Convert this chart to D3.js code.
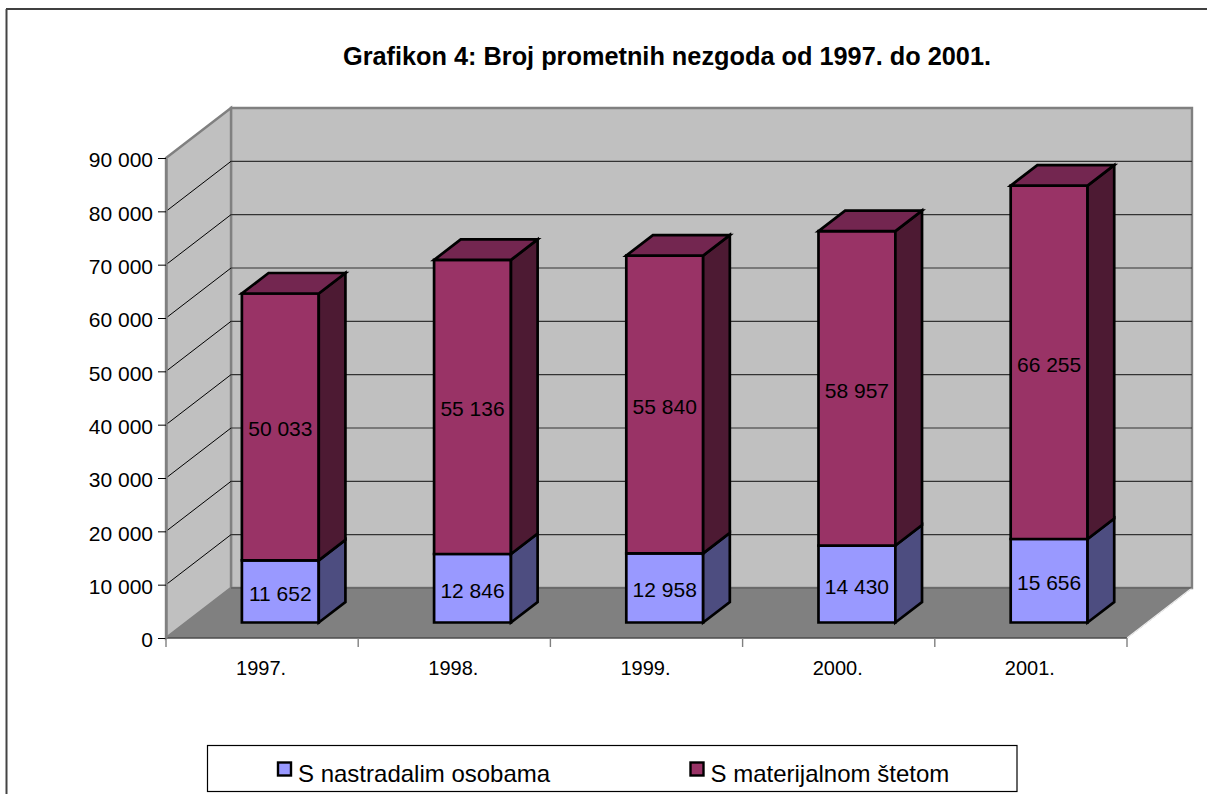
<!DOCTYPE html>
<html><head><meta charset="utf-8">
<script src="https://cdn.jsdelivr.net/npm/d3@7/dist/d3.min.js"></script>
<style>html,body{margin:0;padding:0;background:#fff;overflow:hidden}svg{display:block}text{font-family:"Liberation Sans",Arial,sans-serif;fill:#000}</style>
</head><body><script>
const categories = ["1997.","1998.","1999.","2000.","2001."];
const injured = [11652,12846,12958,14430,15656];
const damage = [50033,55136,55840,58957,66255];
const valueTicks = [0,10000,20000,30000,40000,50000,60000,70000,80000,90000];
const seriesNames = ["S nastradalim osobama","S materijalnom štetom"];
const titleText = "Grafikon 4: Broj prometnih nezgoda od 1997. do 2001.";

const W=1207,H=794;
const svg=d3.select("body").append("svg").attr("width",W).attr("height",H);
const x=d3.scaleBand().domain(categories).range([166,1127]);
const y=d3.scaleLinear().domain([0,90000]).range([638,158]);
const depthX=d3.scaleLinear().domain([0,1]).range([0,65]);
const depthY=d3.scaleLinear().domain([0,1]).range([0,-50]);
const fmt=v=>d3.format(",")(v).replace(/,/g," ");
const P=(px,py,d=0)=>[px+depthX(d),py+depthY(d)];
const poly=(pts,fill,stroke,sw)=>svg.append("polygon").attr("points",pts.map(p=>p.join(",")).join(" ")).attr("fill",fill).attr("stroke",stroke).attr("stroke-width",sw).attr("stroke-linejoin","miter");
const line=(a,b,stroke,sw)=>svg.append("line").attr("x1",a[0]).attr("y1",a[1]).attr("x2",b[0]).attr("y2",b[1]).attr("stroke",stroke).attr("stroke-width",sw);

// chart frame: only top and left edges fall inside the picture
line([6,9],[W,9],"#000",1.5);
line([6.5,9],[6.5,H],"#444",2);

const xL=166,xR=1127,y0=y(0),yT=y(90000);
// walls and floor
poly([P(xL,yT,1),P(xR,yT,1),P(xR,y0,1),P(xL,y0,1)],"#c0c0c0","#808080",2.4);
poly([P(xL,yT,0),P(xL,yT,1),P(xL,y0,1),P(xL,y0,0)],"#c0c0c0","#808080",2.4);
poly([P(xL,y0,0),P(xL,y0,1),P(xR,y0,1),P(xR,y0,0)],"#808080","#808080",1);
line(P(xR,y0,0),P(xR,y0,1),"#eee",1.2);
line(P(xL,y0,1),P(xR,y0,1),"#555",1.2);
line(P(xL,y0,0),P(xR,y0,0),"#333",1.2);

// gridlines
valueTicks.slice(1,-1).forEach(v=>{
  line(P(xL,y(v),0),P(xL,y(v),1),"#000",1);
  line(P(xL,y(v),1),P(xR,y(v),1),"#333",1.2);
});

// axes
const axisY=d3.axisLeft(y).tickValues(valueTicks).tickFormat(fmt).tickSizeInner(8).tickSizeOuter(0).tickPadding(5);
const gy=svg.append("g").attr("transform",`translate(${xL},0)`).call(axisY);
gy.select(".domain").attr("stroke","#808080").attr("stroke-width",2.4);
gy.selectAll(".tick line").attr("stroke","#000");
gy.selectAll("text").attr("dy","0.42em").style("font-size","21px").style("font-family",'"Liberation Sans",Arial,sans-serif').attr("fill","#000");

const ticksX=d3.range(categories.length+1).map(i=>xL+i*x.bandwidth());
ticksX.forEach(t=>line([t,y0],[t,y0+9],"#808080",1.4));
svg.append("g").selectAll("text").data(categories).join("text")
  .attr("x",d=>x(d)+x.bandwidth()/2-1).attr("y",674.5)
  .attr("text-anchor","middle").style("font-size","20px").text(d=>d);

// bars
const barW=x.bandwidth()*0.4, dNear=0.31, dFar=0.72;
const colors=[{front:"#9999ff",side:"#4d4d80",top:"#7373bf"},{front:"#993366",side:"#4d1a33",top:"#732650"}];
categories.forEach((c,i)=>{
  const bx=x(c)+x.bandwidth()*0.29;
  const stack=[[0,injured[i]],[injured[i],injured[i]+damage[i]]];
  stack.forEach(([a,b],k)=>{
    const col=colors[k];
    const x0=bx,x1=bx+barW,ya=y(a),yb=y(b);
    poly([P(x0,ya,dNear),P(x1,ya,dNear),P(x1,yb,dNear),P(x0,yb,dNear)],col.front,"#000",2.7);
    poly([P(x1,ya,dNear),P(x1,ya,dFar),P(x1,yb,dFar),P(x1,yb,dNear)],col.side,"#000",2.7);
    if(k===1) poly([P(x0,yb,dNear),P(x1,yb,dNear),P(x1,yb,dFar),P(x0,yb,dFar)],col.top,"#000",2.7);
  });
  stack.forEach(([a,b],k)=>{
    const c0=P(bx+barW/2,y((a+b)/2),dNear);
    svg.append("text").attr("x",c0[0]).attr("y",c0[1]+9.5).attr("text-anchor","middle")
      .style("font-size","21px").text(fmt(b-a));
  });
});

// title
svg.append("text").attr("x",667).attr("y",64.5).attr("text-anchor","middle").style("font-size","25.3px").style("font-weight","bold").text(titleText);

// legend
svg.append("rect").attr("x",207.5).attr("y",745.5).attr("width",809.5).attr("height",46).attr("fill","#fff").attr("stroke","#000").attr("stroke-width",1.2);
const legX=[278,690.5];
seriesNames.forEach((n,i)=>{
  svg.append("rect").attr("x",legX[i]).attr("y",762.5).attr("width",13).attr("height",13).attr("fill",colors[i].front).attr("stroke","#000").attr("stroke-width",2.4);
  svg.append("text").attr("x",legX[i]+20).attr("y",782).style("font-size","24px").text(n);
});
</script></body></html>
